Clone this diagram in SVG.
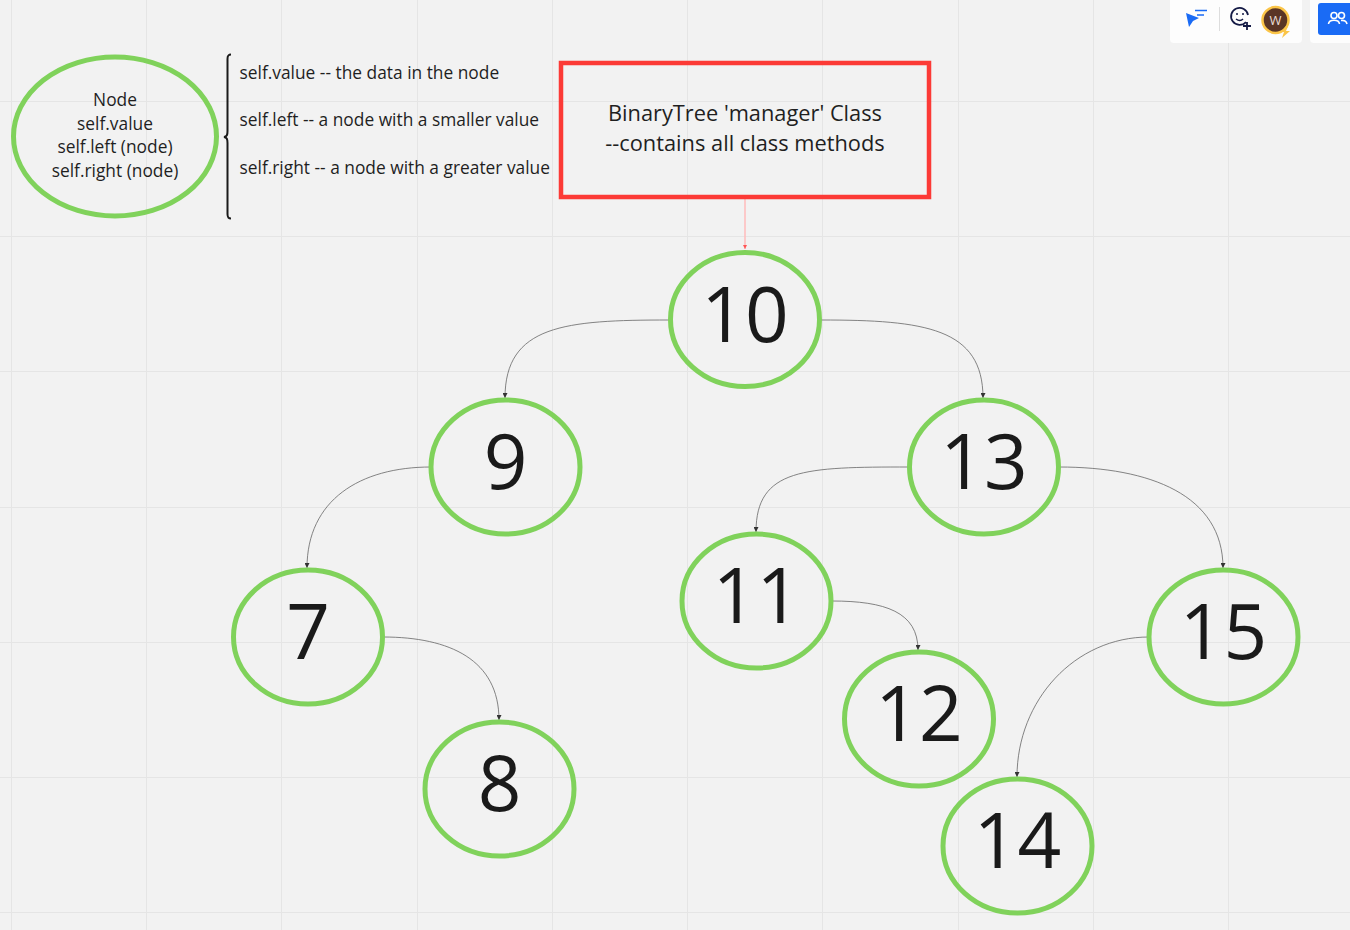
<svg xmlns="http://www.w3.org/2000/svg" width="1350" height="930" viewBox="0 0 1350 930">
<defs>
<style>
.grid{stroke:#e5e5e5;stroke-width:1;fill:none}
.node{fill:none;stroke:#80d25b;stroke-width:5}
.num{font-family:"Open Sans","Noto Sans",sans-serif;font-size:76.500px;fill:#1a1a1a;text-anchor:middle}
.sm{font-family:"Open Sans","Noto Sans",sans-serif;font-size:17.350px;fill:#1f1f1f}
.mid{text-anchor:middle}
.big{font-family:"Open Sans","Noto Sans",sans-serif;font-size:21.800px;fill:#1f1f1f;text-anchor:middle}
.conn{fill:none;stroke:#666;stroke-width:.8}
</style>
<marker id="ah" markerWidth="6" markerHeight="5" refX="5" refY="2.500" orient="auto" markerUnits="userSpaceOnUse"><path d="M0 0L5 2.500L0 5z" fill="#333"/></marker>
<marker id="ar" markerWidth="5" markerHeight="4" refX="4" refY="2" orient="auto" markerUnits="userSpaceOnUse"><path d="M0 0L4 2L0 4z" fill="#f55"/></marker>
</defs>
<rect width="1350" height="930" fill="#f2f2f2"/>
<g id="grid" class="grid">
<path d="M11.500 0V930M146.500 0V930M281.500 0V930M417.500 0V930M552.500 0V930M687.500 0V930M822.500 0V930M958.500 0V930M1093.500 0V930M1228.500 0V930"/>
<path d="M0 101.500H1350M0 236.500H1350M0 371.500H1350M0 507.500H1350M0 642.500H1350M0 777.500H1350M0 912.500H1350"/>
</g>
<g id="connectors">
<path class="conn" d="M745 199V249" style="stroke:#fbb;stroke-width:1.500" marker-end="url(#ar)"/>
<path class="conn" d="M669 320C565 320 505 325 505 398" marker-end="url(#ah)"/>
<path class="conn" d="M821 320C925 320 983 328 983 398" marker-end="url(#ah)"/>
<path class="conn" d="M431 467C360 467 307 500 307 568" marker-end="url(#ah)"/>
<path class="conn" d="M909 467C805 467 756 468 756 532" marker-end="url(#ah)"/>
<path class="conn" d="M1059 467C1150 467 1223 495 1223 568" marker-end="url(#ah)"/>
<path class="conn" d="M383 637C450 637 499 660 499 720" marker-end="url(#ah)"/>
<path class="conn" d="M832 601C885 601 918 612 918 650" marker-end="url(#ah)"/>
<path class="conn" d="M1149 637C1075 637 1017 700 1017 777" marker-end="url(#ah)"/>
</g>
<g id="legend-node"><ellipse class="node" cx="115" cy="136.500" rx="101.500" ry="79.500"/>
<text class="sm mid" x="115" y="106">Node</text><text class="sm mid" x="115" y="130">self.value</text><text class="sm mid" x="115" y="153">self.left (node)</text><text class="sm mid" x="115" y="177">self.right (node)</text></g>
<g id="brace"><path d="M231 54.500C228 54.500 227.500 56 227.500 59V131C227.500 135 227 136.500 224 137C227 137.500 227.500 139 227.500 143V214C227.500 217 228 218.500 231 218.500" fill="none" stroke="#1a1a1a" stroke-width="2"/></g>
<g id="attrs"><text class="sm" x="239.500" y="79">self.value -- the data in the node</text><text class="sm" x="239.500" y="126">self.left -- a node with a smaller value</text><text class="sm" x="239.500" y="174">self.right -- a node with a greater value</text></g>
<g id="manager"><rect x="561" y="63" width="368" height="134" fill="none" stroke="#fc3a36" stroke-width="4.500"/><text class="big" x="745" y="121">BinaryTree 'manager' Class</text><text class="big" x="745" y="151">--contains all class methods</text></g>
<g id="n10"><ellipse class="node" cx="745" cy="319.500" rx="74.500" ry="67"/><text class="num" x="745" y="342">10</text></g>
<g id="n9"><ellipse class="node" cx="505.500" cy="467" rx="74.500" ry="67"/><text class="num" x="505.500" y="489">9</text></g>
<g id="n13"><ellipse class="node" cx="984" cy="467" rx="74.500" ry="67"/><text class="num" x="984" y="489">13</text></g>
<g id="n7"><ellipse class="node" cx="308" cy="637" rx="74.500" ry="67"/><text class="num" x="308" y="659">7</text></g>
<g id="n11"><ellipse class="node" cx="756.500" cy="601" rx="74.500" ry="67"/><text class="num" x="756.500" y="623">11</text></g>
<g id="n15"><ellipse class="node" cx="1223.500" cy="637" rx="74.500" ry="67"/><text class="num" x="1223.500" y="659">15</text></g>
<g id="n12"><ellipse class="node" cx="919" cy="719" rx="74.500" ry="67"/><text class="num" x="919" y="741">12</text></g>
<g id="n8"><ellipse class="node" cx="499.500" cy="789" rx="74.500" ry="67"/><text class="num" x="499.500" y="811">8</text></g>
<g id="n14"><ellipse class="node" cx="1017.500" cy="846" rx="74.500" ry="67"/><text class="num" x="1017.500" y="868">14</text></g>
<g id="toolbar">
<rect x="1170" y="-8" width="132" height="51" rx="4" fill="#fdfdfd"/>
<rect x="1310" y="-8" width="50" height="51" rx="4" fill="#fdfdfd"/>
<path d="M1186 13L1199 18L1193 21L1189 27z" fill="#1a6bf5"/><path d="M1195 10.500H1207M1197 15H1204" stroke="#1a6bf5" stroke-width="1.500" fill="none"/>
<path d="M1219.500 7V31" stroke="#ddd" stroke-width="1"/>
<path d="M1246 22A8.500 8.500 0 1 1 1248 15" fill="none" stroke="#141a45" stroke-width="1.800"/><path d="M1236 14h2M1242 14h2M1236 19q4 3 7 0" stroke="#141a45" stroke-width="1.500" fill="none"/><path d="M1247 22V30M1243 26H1251" stroke="#141a45" stroke-width="1.800"/>
<circle cx="1275.500" cy="20" r="13" fill="#5a3525" stroke="#fbc548" stroke-width="2.500"/>
<text x="1275.500" y="25" font-family="Open Sans, sans-serif" font-size="13" fill="#e8ddd5" text-anchor="middle">W</text>
<path d="M1286 26L1281 32H1284L1282 38L1290 31H1286L1288 26z" fill="#fbc548"/>
<rect x="1318" y="3" width="40" height="32" rx="3" fill="#1a6bf5"/>
<circle cx="1334" cy="15.500" r="3" fill="none" stroke="#fff" stroke-width="1.600"/><circle cx="1341.500" cy="15.500" r="3" fill="none" stroke="#fff" stroke-width="1.600"/>
<path d="M1328.500 24C1329 19 1339 19 1339.500 24M1341 20.500C1344 20 1346.500 21 1347 24" fill="none" stroke="#fff" stroke-width="1.600"/>
</g>
</svg>
